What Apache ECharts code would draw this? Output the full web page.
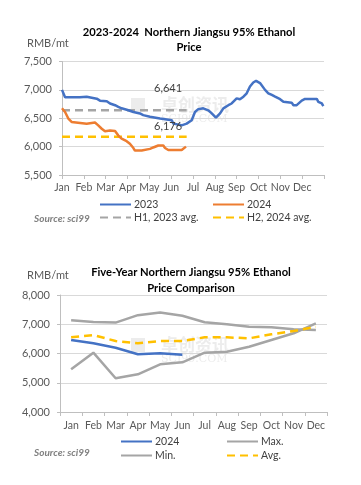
<!DOCTYPE html>
<html><head><meta charset="utf-8">
<script src="https://cdn.jsdelivr.net/npm/echarts@6/dist/echarts.min.js"></script>
<style>html,body{margin:0;padding:0;background:#fff}#c{width:361px;height:485px}</style>
</head><body><div id="c"></div>
<script>
const months = ['Jan','Feb','Mar','Apr','May','Jun','Jul','Aug','Sep','Oct','Nov','Dec'];
// Top chart: daily prices (x = month position, 0 = start of Jan)
const pos2023 = [0,0.14,0.82,0.90,1.13,1.20,1.59,1.74,2.05,2.20,2.43,2.58,2.73,3.04,3.27,3.57,3.72,4.03,4.49,5.03,5.10,5.48,5.71,5.94,6.09,6.24,6.47,6.70,6.86,7.05,7.24,7.39,7.62,7.77,8.00,8.15,8.31,8.46,8.61,8.76,8.89,9.07,9.30,9.45,9.61,9.76,9.99,10.14,10.52,10.60,10.75,10.98,11.13,11.67,11.74,11.90,11.97];
const val2023 = [7000,6870,6870,6890,6880,6845,6845,6810,6800,6760,6730,6700,6675,6640,6610,6585,6555,6525,6495,6465,6405,6375,6405,6465,6610,6660,6675,6640,6585,6510,6585,6675,6730,6760,6850,6835,6880,6940,7060,7130,7160,7120,7000,6940,6910,6880,6835,6790,6775,6730,6730,6810,6840,6840,6790,6760,6715];
const pos2024 = [0,0.14,0.29,0.44,0.52,1.13,1.20,1.51,1.66,1.82,1.97,2.20,2.28,2.43,2.58,2.73,2.96,3.11,3.27,3.34,3.65,3.72,4.03,4.18,4.41,4.64,4.72,4.87,5.48,5.56,5.68];
const val2024 = [6675,6610,6495,6435,6405,6405,6425,6425,6375,6315,6270,6285,6305,6275,6195,6140,6095,6050,5975,5930,5930,5960,5960,5985,6020,6020,5975,5940,5940,5975,6000];
const avgRange = [0, 5.71];
const h1Avg2023 = 6641;
const h2Avg2024 = 6176;
// Bottom chart: monthly five-year comparison
const month2024 = [6462,6348,6199,5972,6006,5960];
const maxVals = [7138,7080,7057,7310,7402,7293,7066,6998,6917,6895,6826,6803];
const minVals = [5460,6028,5152,5289,5631,5699,6028,6062,6233,6462,6690,7033];
const avgVals = [6553,6632,6427,6348,6427,6427,6553,6553,6519,6655,6769,6917];

const zip = (a,b)=>a.map((x,i)=>[x,b[i]]);
const FONT = 'Lato';
const LBL = '#595959';
const chart = echarts.init(document.getElementById('c'));
const axisLbl = {color:LBL, fontSize:11, fontFamily:FONT};
const legendBase = (l,t,name,fmt)=>({left:l, top:t, padding:0, itemWidth:31, itemHeight:10, itemGap:0,
  data:[name], itemStyle:{opacity:0},
  textStyle:{color:'#404040', fontSize:10.5, fontFamily:FONT, padding:[0,0,0,-2]}, selectedMode:false,
  formatter: fmt || (n=>n)});
const wm = (x,y)=>[
  {type:'rect', left:x, top:y-7, shape:{width:14,height:14}, style:{fill:'rgba(200,200,200,0.35)'}, silent:true, z:0},
  {type:'text', left:x+30, top:y-9, style:{text:'卓创资讯', font:'bold 17px "Noto Sans CJK SC"', fill:'rgba(200,200,200,0.35)'}, silent:true, z:0},
  {type:'text', left:x+30, top:y+9, style:{text:'SCI99.COM', font:'11px "DejaVu Serif"', fill:'rgba(200,200,200,0.35)'}, silent:true, z:0}
];
chart.setOption({
  animation:false,
  graphic:[...wm(131,105), ...wm(131,345)],
  title:[
    {text:'2023-2024  Northern Jiangsu 95% Ethanol\nPrice', left:184, top:20, textAlign:'center',
     textStyle:{fontFamily:FONT, fontSize:11.2, fontWeight:'bold', color:'#000', lineHeight:15}},
    {text:'RMB/mt', left:22, top:33, textStyle:{fontFamily:FONT, fontSize:11, fontWeight:'normal', color:LBL}},
    {text:'Five-Year Northern Jiangsu 95% Ethanol\nPrice Comparison', left:186, top:259, textAlign:'center',
     textStyle:{fontFamily:FONT, fontSize:11.2, fontWeight:'bold', color:'#000', lineHeight:16}},
    {text:'RMB/mt', left:22, top:265, textStyle:{fontFamily:FONT, fontSize:11, fontWeight:'normal', color:LBL}},
    {text:'Source: sci99', left:29, top:208.5, textStyle:{fontFamily:FONT, fontSize:10, fontWeight:'bold', fontStyle:'italic', color:'#808080'}},
    {text:'Source: sci99', left:29, top:443, textStyle:{fontFamily:FONT, fontSize:10, fontWeight:'bold', fontStyle:'italic', color:'#808080'}}
  ],
  legend:[
    legendBase(99,199,'2023'), legendBase(212,199,'2024'),
    legendBase(99,212,'H1, 2023 avg.'), legendBase(212,212,'H2, 2024 avg.'),
    legendBase(120,436,'b2024',()=> '2024'), legendBase(226,436,'Max.'),
    legendBase(120,450,'Min.'), legendBase(226,450,'Avg.')
  ],
  grid:[
    {left:62, right:37, top:61.5, height:113.5},
    {left:60, right:34, top:295, height:117}
  ],
  xAxis:[
    {type:'value', gridIndex:0, min:0, max:12, interval:1,
     axisLine:{lineStyle:{color:'#bfbfbf'}}, axisTick:{show:true, length:4, lineStyle:{color:'#bfbfbf'}},
     splitLine:{show:false}, axisLabel:{...axisLbl, fontSize:10.5, margin:7, formatter:v=>months[v]||''}},
    {type:'category', gridIndex:1, data:months, boundaryGap:true,
     axisLine:{lineStyle:{color:'#bfbfbf'}}, axisTick:{show:true, length:4, alignWithLabel:false, interval:0, lineStyle:{color:'#bfbfbf'}},
     axisLabel:{...axisLbl, fontSize:10.5, margin:8, interval:0}}
  ],
  yAxis:[
    {type:'value', gridIndex:0, min:5500, max:7500, interval:500,
     axisLine:{show:true, lineStyle:{color:'#bfbfbf'}}, axisTick:{show:true, length:3, lineStyle:{color:'#bfbfbf'}},
     splitLine:{lineStyle:{color:'#d9d9d9'}},
     axisLabel:{...axisLbl, margin:10, formatter:v=>v.toLocaleString('en-US')}},
    {type:'value', gridIndex:1, min:4000, max:8000, interval:1000,
     axisLine:{show:true, lineStyle:{color:'#bfbfbf'}}, axisTick:{show:true, length:3, lineStyle:{color:'#bfbfbf'}},
     splitLine:{lineStyle:{color:'#d9d9d9'}},
     axisLabel:{...axisLbl, margin:10, formatter:v=>v.toLocaleString('en-US')}}
  ],
  series:[
    {name:'2023', type:'line', xAxisIndex:0, yAxisIndex:0, data:zip(pos2023,val2023), symbol:'none',
     lineStyle:{color:'#4472C4', width:2.5}, itemStyle:{color:'#4472C4'}, z:3},
    {name:'2024', type:'line', xAxisIndex:0, yAxisIndex:0, data:zip(pos2024,val2024), symbol:'none',
     lineStyle:{color:'#ED7D31', width:2.5}, itemStyle:{color:'#ED7D31'}, z:3},
    {name:'H1, 2023 avg.', type:'line', xAxisIndex:0, yAxisIndex:0, data:avgRange.map(x=>[x,h1Avg2023]), symbol:'none',
     lineStyle:{color:'#A5A5A5', width:2.5, type:[8,5]}, itemStyle:{color:'#A5A5A5'}, z:2,
     markPoint:{symbol:'circle', symbolSize:0, data:[{coord:[4.86,h1Avg2023], value:h1Avg2023}],
       label:{show:true, offset:[0,-22], color:'#404040', fontSize:11, fontFamily:FONT, formatter:p=>p.value.toLocaleString('en-US')}}},
    {name:'H2, 2024 avg.', type:'line', xAxisIndex:0, yAxisIndex:0, data:avgRange.map(x=>[x,h2Avg2024]), symbol:'none',
     lineStyle:{color:'#FFC000', width:2.5, type:[8,5]}, itemStyle:{color:'#FFC000'}, z:2,
     markPoint:{symbol:'circle', symbolSize:0, data:[{coord:[4.86,h2Avg2024], value:h2Avg2024}],
       label:{show:true, offset:[0,-10], color:'#404040', fontSize:11, fontFamily:FONT, formatter:p=>p.value.toLocaleString('en-US')}}},
    {name:'b2024', type:'line', xAxisIndex:1, yAxisIndex:1, data:month2024, symbol:'none',
     lineStyle:{color:'#4472C4', width:2.5}, itemStyle:{color:'#4472C4'}, z:4},
    {name:'Max.', type:'line', xAxisIndex:1, yAxisIndex:1, data:maxVals, symbol:'none',
     lineStyle:{color:'#A5A5A5', width:2.5}, itemStyle:{color:'#A5A5A5'}},
    {name:'Min.', type:'line', xAxisIndex:1, yAxisIndex:1, data:minVals, symbol:'none',
     lineStyle:{color:'#A5A5A5', width:2.5}, itemStyle:{color:'#A5A5A5'}},
    {name:'Avg.', type:'line', xAxisIndex:1, yAxisIndex:1, data:avgVals, symbol:'none',
     lineStyle:{color:'#FFC000', width:2.5, type:[8,5]}, itemStyle:{color:'#FFC000'}, z:3}
  ]
});
</script></body></html>
